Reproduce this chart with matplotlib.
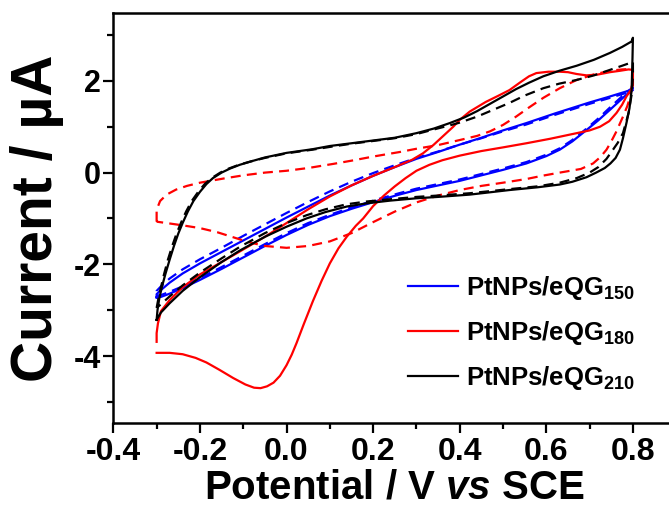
import matplotlib
matplotlib.use("Agg")
import matplotlib.pyplot as plt
from matplotlib.ticker import MultipleLocator

plt.rcParams['font.family'] = ['Liberation Sans', 'DejaVu Sans']
plt.rcParams['font.weight'] = 'bold'
plt.rcParams['mathtext.fontset'] = 'custom'
plt.rcParams['mathtext.rm'] = 'Liberation Sans:bold'
plt.rcParams['mathtext.bf'] = 'Liberation Sans:bold'
plt.rcParams['mathtext.it'] = 'Liberation Sans:italic:bold'
plt.rcParams['mathtext.default'] = 'bf'

# ---- PtNPs/eQG150 (blue): anodic and cathodic sweeps ----
e150_up = [-0.300, -0.290, -0.270, -0.240, -0.200, -0.150, -0.100, -0.050, 0.000, 0.050, 0.100, 0.150,
           0.215, 0.260, 0.300, 0.350, 0.400, 0.450, 0.500, 0.554, 0.600, 0.631, 0.660, 0.693, 0.720,
           0.747, 0.770, 0.785, 0.800]
i150_up = [-2.72, -2.71, -2.64, -2.52, -2.34, -2.10, -1.85, -1.60, -1.36, -1.14, -0.95, -0.79,
           -0.60, -0.48, -0.38, -0.28, -0.18, -0.06, 0.06, 0.20, 0.36, 0.50, 0.68, 0.93, 1.14,
           1.37, 1.57, 1.70, 1.80]
e150_dn = [0.800, 0.785, 0.740, 0.700, 0.670, 0.620, 0.554, 0.500, 0.450, 0.400, 0.350, 0.300, 0.250,
           0.200, 0.150, 0.100, 0.050, 0.000, -0.050, -0.100, -0.150, -0.200, -0.240, -0.270, -0.290,
           -0.300, -0.300]
i150_dn = [1.80, 1.77, 1.64, 1.53, 1.44, 1.29, 1.08, 0.92, 0.76, 0.61, 0.45, 0.30, 0.12,
           -0.07, -0.28, -0.50, -0.74, -0.98, -1.23, -1.48, -1.73, -1.98, -2.20, -2.40, -2.56,
           -2.65, -2.72]

e150d_up = [-0.300, -0.290, -0.270, -0.240, -0.200, -0.150, -0.100, -0.050, 0.000, 0.050, 0.100, 0.150,
            0.215, 0.260, 0.300, 0.350, 0.400, 0.450, 0.500, 0.554, 0.600, 0.631, 0.660, 0.693, 0.720,
            0.747, 0.770, 0.785, 0.800]
i150d_up = [-2.68, -2.67, -2.60, -2.48, -2.30, -2.06, -1.81, -1.56, -1.32, -1.10, -0.92, -0.76,
            -0.57, -0.45, -0.35, -0.25, -0.15, -0.03, 0.09, 0.23, 0.39, 0.53, 0.71, 0.96, 1.18,
            1.42, 1.62, 1.76, 1.85]
e150d_dn = [0.800, 0.785, 0.740, 0.700, 0.670, 0.620, 0.554, 0.500, 0.450, 0.400, 0.350, 0.300, 0.250,
            0.200, 0.150, 0.100, 0.050, 0.000, -0.050, -0.100, -0.150, -0.200, -0.240, -0.270, -0.290,
            -0.300, -0.300]
i150d_dn = [1.85, 1.74, 1.61, 1.50, 1.41, 1.26, 1.05, 0.90, 0.75, 0.61, 0.46, 0.32, 0.16,
            -0.01, -0.20, -0.41, -0.64, -0.88, -1.13, -1.38, -1.64, -1.89, -2.11, -2.31, -2.48,
            -2.58, -2.68]

# ---- PtNPs/eQG180 (red) ----
e180_up = [-0.300, -0.270, -0.240, -0.210, -0.185, -0.155, -0.123, -0.095, -0.075, -0.060, -0.045,
           -0.030, -0.015, 0.000, 0.012, 0.023, 0.040, 0.061, 0.081, 0.100, 0.120, 0.139, 0.160, 0.177,
           0.200, 0.225, 0.250, 0.275, 0.300, 0.330, 0.360, 0.400, 0.450, 0.500, 0.554, 0.610, 0.670,
           0.700, 0.724, 0.745, 0.762, 0.775, 0.785, 0.795, 0.800, 0.800]
i180_up = [-3.93, -3.93, -3.96, -4.04, -4.14, -4.30, -4.48, -4.62, -4.69, -4.70, -4.66,
           -4.58, -4.43, -4.20, -3.97, -3.72, -3.30, -2.80, -2.36, -1.98, -1.65, -1.40, -1.16, -1.00,
           -0.73, -0.50, -0.30, -0.12, 0.04, 0.17, 0.27, 0.37, 0.47, 0.55, 0.64, 0.74, 0.86,
           0.92, 1.00, 1.12, 1.30, 1.48, 1.66, 1.80, 1.90, 2.24]
e180_dn = [0.800, 0.790, 0.770, 0.747, 0.720, 0.693, 0.670, 0.650, 0.631, 0.605, 0.577, 0.560, 0.540,
           0.515, 0.490, 0.460, 0.423, 0.400, 0.385, 0.362, 0.339, 0.315, 0.290, 0.250, 0.200, 0.150,
           0.100, 0.050, 0.000, -0.050, -0.108, -0.150, -0.200, -0.240, -0.270, -0.290, -0.297, -0.300,
           -0.300]
i180_dn = [2.24, 2.25, 2.22, 2.19, 2.14, 2.12, 2.15, 2.19, 2.20, 2.20, 2.17, 2.10, 1.97,
           1.80, 1.68, 1.54, 1.33, 1.15, 1.00, 0.80, 0.60, 0.42, 0.28, 0.12, -0.07, -0.28,
           -0.52, -0.80, -1.10, -1.40, -1.72, -1.95, -2.22, -2.50, -2.78, -3.02, -3.29, -3.50,
           -3.69]

e180d_up = [-0.300, -0.300, -0.292, -0.277, -0.255, -0.230, -0.200, -0.146, -0.100, -0.050, 0.000,
            0.050, 0.108, 0.150, 0.200, 0.262, 0.300, 0.350, 0.400, 0.440, 0.470, 0.500, 0.530, 0.560,
            0.593, 0.631, 0.670, 0.710, 0.747, 0.775, 0.797, 0.800]
i180d_up = [-1.07, -0.81, -0.62, -0.48, -0.37, -0.29, -0.22, -0.13, -0.06, 0.00, 0.04,
            0.10, 0.19, 0.26, 0.35, 0.45, 0.52, 0.60, 0.71, 0.80, 0.90, 1.04, 1.22, 1.42,
            1.63, 1.84, 2.02, 2.14, 2.22, 2.25, 2.26, 2.20]
e180d_dn = [0.800, 0.798, 0.795, 0.787, 0.777, 0.762, 0.750, 0.739, 0.725, 0.708, 0.680, 0.631, 0.590,
            0.554, 0.500, 0.450, 0.400, 0.350, 0.300, 0.250, 0.200, 0.150, 0.100, 0.050, 0.000, -0.050,
            -0.090, -0.123, -0.160, -0.200, -0.240, -0.277, -0.300]
i180d_dn = [2.20, 1.95, 1.70, 1.45, 1.22, 0.90, 0.68, 0.50, 0.34, 0.20, 0.08, 0.00, -0.07,
            -0.14, -0.22, -0.29, -0.38, -0.50, -0.65, -0.85, -1.08, -1.32, -1.50, -1.60, -1.64, -1.60,
            -1.51, -1.41, -1.30, -1.21, -1.15, -1.10, -1.07]

# ---- PtNPs/eQG210 (black) ----
e210_up = [-0.300, -0.298, -0.294, -0.288, -0.280, -0.270, -0.260, -0.250, -0.240, -0.228, -0.215,
           -0.200, -0.185, -0.170, -0.150, -0.130, -0.108, -0.080, -0.050, -0.020, 0.000, 0.030, 0.060,
           0.100, 0.150, 0.200, 0.250, 0.300, 0.340, 0.377, 0.410, 0.440, 0.470, 0.500, 0.530, 0.560,
           0.593, 0.630, 0.670, 0.710, 0.747, 0.775, 0.797, 0.800]
i210_up = [-3.21, -3.00, -2.75, -2.50, -2.22, -1.90, -1.60, -1.33, -1.10, -0.85, -0.62,
           -0.42, -0.25, -0.12, 0.00, 0.09, 0.17, 0.25, 0.33, 0.39, 0.43, 0.47, 0.51,
           0.58, 0.64, 0.70, 0.76, 0.86, 0.96, 1.08, 1.20, 1.34, 1.50, 1.66, 1.82, 1.96,
           2.10, 2.22, 2.33, 2.46, 2.61, 2.74, 2.86, 2.94]
e210_dn = [0.800, 0.799, 0.797, 0.792, 0.785, 0.777, 0.770, 0.760, 0.748, 0.735, 0.715, 0.693, 0.660,
           0.631, 0.580, 0.515, 0.460, 0.423, 0.350, 0.300, 0.240, 0.185, 0.139, 0.090, 0.046, 0.000,
           -0.050, -0.108, -0.150, -0.200, -0.240, -0.270, -0.290, -0.300]
i210_dn = [2.94, 2.50, 1.80, 1.40, 1.08, 0.75, 0.50, 0.32, 0.20, 0.10, 0.00, -0.10, -0.20,
           -0.26, -0.32, -0.38, -0.44, -0.48, -0.53, -0.56, -0.61, -0.67, -0.74, -0.86, -1.00, -1.18,
           -1.40, -1.70, -1.95, -2.28, -2.58, -2.85, -3.05, -3.21]

e210d_up = [-0.300, -0.296, -0.290, -0.283, -0.274, -0.264, -0.254, -0.244, -0.232, -0.219, -0.204,
            -0.189, -0.173, -0.153, -0.133, -0.110, -0.080, -0.050, -0.020, 0.000, 0.030, 0.060, 0.100,
            0.150, 0.200, 0.250, 0.300, 0.340, 0.377, 0.400, 0.440, 0.480, 0.515, 0.550, 0.593, 0.630,
            0.670, 0.710, 0.747, 0.775, 0.793, 0.800]
i210d_up = [-2.95, -2.75, -2.50, -2.22, -1.90, -1.60, -1.33, -1.10, -0.85, -0.62, -0.42,
            -0.25, -0.12, 0.00, 0.09, 0.17, 0.25, 0.32, 0.38, 0.42, 0.46, 0.50, 0.56,
            0.63, 0.69, 0.75, 0.84, 0.94, 1.03, 1.09, 1.22, 1.38, 1.52, 1.68, 1.84, 1.94,
            2.02, 2.12, 2.24, 2.33, 2.39, 2.42]
e210d_dn = [0.800, 0.800, 0.797, 0.790, 0.777, 0.765, 0.754, 0.739, 0.720, 0.700, 0.670, 0.631, 0.580,
            0.515, 0.423, 0.350, 0.300, 0.240, 0.185, 0.139, 0.090, 0.046, 0.000, -0.050, -0.108, -0.150,
            -0.200, -0.240, -0.270, -0.290, -0.300]
i210d_dn = [2.42, 2.10, 1.70, 1.30, 0.86, 0.65, 0.50, 0.30, 0.12, 0.00, -0.12, -0.22, -0.30,
            -0.36, -0.45, -0.50, -0.53, -0.58, -0.63, -0.69, -0.80, -0.93, -1.10, -1.32, -1.62, -1.87,
            -2.18, -2.46, -2.70, -2.87, -2.95]

labels = ['PtNPs/eQG$_{150}$', 'PtNPs/eQG$_{180}$', 'PtNPs/eQG$_{210}$']
colors = ['#0000ff', '#ff0000', '#000000']
x_ticks = [-0.4, -0.2, 0.0, 0.2, 0.4, 0.6, 0.8]
x_ticklabels = ['-0.4', '-0.2', '0.0', '0.2', '0.4', '0.6', '0.8']
y_ticks = [-4, -2, 0, 2]
y_ticklabels = ['-4', '-2', '0', '2']

fig = plt.figure(figsize=(6.69, 5.08), dpi=100)
ax = fig.add_axes([0.1694, 0.1673, 0.8414, 0.8071])

lw = 1.6
dash = (0, (4.5, 2.8))
solid_sets = [(e150_up, i150_up, e150_dn, i150_dn),
              (e180_up, i180_up, e180_dn, i180_dn),
              (e210_up, i210_up, e210_dn, i210_dn)]
dashed_sets = [(e150d_up, i150d_up, e150d_dn, i150d_dn),
               (e180d_up, i180d_up, e180d_dn, i180d_dn),
               (e210d_up, i210d_up, e210d_dn, i210d_dn)]

handles = []
for (eu, iu, ed, idn), (deu, diu, ded, didn), c, lab in zip(solid_sets, dashed_sets, colors, labels):
    ax.plot(deu + ded, diu + didn, color=c, lw=lw, ls=dash, solid_joinstyle='round')
    h, = ax.plot(eu + ed, iu + idn, color=c, lw=lw, label=lab, solid_joinstyle='round')
    handles.append(h)

ax.set_xlim(-0.4, 0.9)
ax.set_ylim(-5.46, 3.48)
ax.xaxis.set_minor_locator(MultipleLocator(0.1))
ax.yaxis.set_minor_locator(MultipleLocator(1))
ax.set_xticks(x_ticks)
ax.set_xticklabels(x_ticklabels)
ax.set_yticks(y_ticks)
ax.set_yticklabels(y_ticklabels)

for s in ax.spines.values():
    s.set_linewidth(1.8)
ax.tick_params(which='major', direction='out', length=7, width=1.6)
ax.tick_params(which='minor', direction='out', length=4.5, width=1.6)
ax.tick_params(axis='x', which='major', labelsize=23, pad=3)
ax.tick_params(axis='y', which='major', labelsize=22, pad=2)
for t in ax.get_xticklabels() + ax.get_yticklabels():
    t.set_fontweight('bold')

ax.set_xlabel('Potential / V $\\mathit{vs}$ SCE', fontsize=29, fontweight='bold')
ax.set_ylabel('Current / \u00b5A', fontsize=41, fontweight='bold')
ax.xaxis.set_label_coords(0.5, -0.110)
ax.yaxis.set_label_coords(-0.088, 0.5)

leg = ax.legend(handles=handles, loc='center left', bbox_to_anchor=(0.5235, 0.2195),
                frameon=False, fontsize=18.5, handlelength=1.95, handletextpad=0.32,
                labelspacing=0.65, borderaxespad=0, borderpad=0)

fig.savefig('out.png', dpi=100)
